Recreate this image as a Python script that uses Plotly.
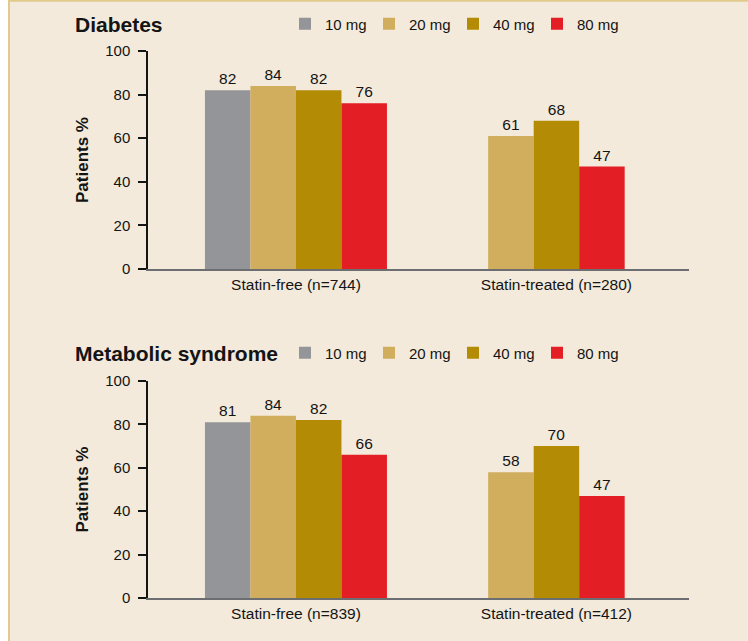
import plotly.graph_objects as go

# Response rates (% of patients reaching target) by statin dose
doses = ["10 mg", "20 mg", "40 mg", "80 mg"]
dose_colors = ["#939598", "#D1AE5E", "#B38B05", "#E31E25"]

diabetes_groups = ["Statin-free (n=744)", "Statin-treated (n=280)"]
diabetes_values = [
    [82, 84, 82, 76],      # statin-free
    [None, 61, 68, 47],    # statin-treated (no 10 mg arm)
]

metsyn_groups = ["Statin-free (n=839)", "Statin-treated (n=412)"]
metsyn_values = [
    [81, 84, 82, 66],
    [None, 58, 70, 47],
]

panel_titles = ["Diabetes", "Metabolic syndrome"]
y_ticks = [0, 20, 40, 60, 80, 100]

BG = "#F3EADB"
BORDER = "#E2C98C"
INK = "#141414"
FONT = "Liberation Sans, Arial, Helvetica, sans-serif"

W, H = 748, 641
BAR_W = 0.1747          # bar width in x-axis units (group spacing = 1)
group_x = [0, 1]
x_range = [-0.568, 1.509]

panels = [
    dict(groups=diabetes_groups, values=diabetes_values, xa="x", ya="y",
         legend="legend", ydom=[1 - 269 / H, 1 - 51 / H]),
    dict(groups=metsyn_groups, values=metsyn_values, xa="x2", ya="y2",
         legend="legend2", ydom=[1 - 598 / H, 1 - 381 / H]),
]

fig = go.Figure()

for p in panels:
    # place each available dose bar side by side, centred on its group
    for d, dose in enumerate(doses):
        xs, ys = [], []
        for g, row in enumerate(p["values"]):
            present = [i for i, v in enumerate(row) if v is not None]
            if row[d] is None:
                continue
            k = present.index(d)
            xs.append(group_x[g] + (k - (len(present) - 1) / 2) * BAR_W)
            ys.append(row[d])
        fig.add_trace(go.Bar(
            x=xs, y=ys, width=BAR_W, name=dose,
            marker=dict(color=dose_colors[d], line=dict(width=0)),
            text=[str(v) for v in ys], textposition="outside",
            textfont=dict(size=15.5, color=INK, family=FONT),
            cliponaxis=False,
            xaxis=p["xa"], yaxis=p["ya"], legend=p["legend"],
            hoverinfo="skip",
        ))

x_dom = [148 / W, 689 / W]
axis_common_x = dict(
    domain=x_dom, range=x_range, showgrid=False, zeroline=False,
    showline=True, linecolor="#6D6E71", linewidth=2,
    ticks="", tickfont=dict(size=15.5, color=INK, family=FONT),
    tickvals=group_x, automargin=False,
)
axis_common_y = dict(
    range=[0, 100], tickvals=y_ticks, showgrid=False, zeroline=False,
    showline=True, linecolor=INK, linewidth=1.5,
    ticks="outside", ticklen=8, tickwidth=1.5, tickcolor=INK,
    ticklabelstandoff=5, automargin=False,
    tickfont=dict(size=15, color=INK, family=FONT),
    title=dict(text="<b>Patients %</b>", font=dict(size=17, color=INK, family=FONT),
               standoff=12),
)

fig.update_layout(
    xaxis=dict(**axis_common_x, ticktext=diabetes_groups, anchor="y"),
    yaxis=dict(**axis_common_y, domain=panels[0]["ydom"], anchor="x"),
    xaxis2=dict(**axis_common_x, ticktext=metsyn_groups, anchor="y2"),
    yaxis2=dict(**axis_common_y, domain=panels[1]["ydom"], anchor="x2"),
)

legend_common = dict(
    orientation="h", xanchor="left", yanchor="middle",
    xref="container", yref="container",
    font=dict(size=15, color=INK, family=FONT),
    bgcolor="rgba(0,0,0,0)", borderwidth=0,
    entrywidth=39, entrywidthmode="pixels",
    itemclick=False, itemdoubleclick=False,
    traceorder="normal",
)
fig.update_layout(
    legend=dict(**legend_common, x=285 / W, y=1 - 24 / H),
    legend2=dict(**legend_common, x=285 / W, y=1 - 353 / H),
)

# panel headings
for title, ypx in zip(panel_titles, [24, 354]):
    fig.add_annotation(
        text=f"<b>{title}</b>", xref="paper", yref="paper",
        x=73 / W, y=1 - ypx / H, xanchor="left", yanchor="middle",
        showarrow=False, font=dict(size=21, color=INK, family=FONT),
    )

# page panel: white gutter on the left, beige box with a golden rule on top and left
fig.add_shape(type="rect", xref="paper", yref="paper", layer="below",
              x0=9 / W, x1=1, y0=0, y1=1, fillcolor=BG, line=dict(width=0))
fig.add_shape(type="line", xref="paper", yref="paper", layer="below",
              x0=9 / W, x1=9 / W, y0=0, y1=1, line=dict(color=BORDER, width=2))
fig.add_shape(type="line", xref="paper", yref="paper", layer="below",
              x0=8 / W, x1=1, y0=1 - 0.8 / H, y1=1 - 0.8 / H,
              line=dict(color=BORDER, width=2))

fig.update_layout(
    width=W, height=H, margin=dict(l=0, r=0, t=0, b=0, autoexpand=False),
    paper_bgcolor="white", plot_bgcolor="rgba(0,0,0,0)",
    barmode="overlay", font=dict(family=FONT, color=INK),
    showlegend=True,
)

fig.write_html("out.html")
